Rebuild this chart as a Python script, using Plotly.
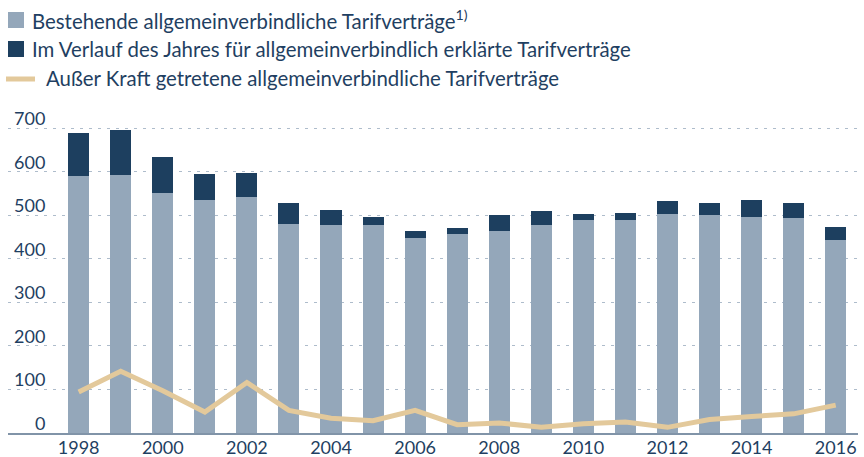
import plotly.graph_objects as go

years = list(range(1998, 2017))
bestehende = [589, 592, 552, 534, 543, 481, 477, 477, 447, 456, 463, 477, 490, 490, 502, 500, 497, 493, 444]
gesamt = [688, 695, 633, 594, 598, 529, 513, 495, 463, 470, 500, 509, 502, 504, 532, 529, 534, 529, 472]
neu = [g - b for g, b in zip(gesamt, bestehende)]
ausser_kraft = [94, 142, 97, 48, 116, 52, 34, 28, 52, 19, 23, 13, 21, 25, 13, 31, 38, 44, 64]
yticks = [0, 100, 200, 300, 400, 500, 600, 700]
xticks = list(range(1998, 2017, 2))

legend_labels = [
    "Bestehende allgemeinverbindliche Tarifverträge<sup>1)</sup>",
    "Im Verlauf des Jahres für allgemeinverbindlich erklärte Tarifverträge",
    "Außer Kraft getretene allgemeinverbindliche Tarifverträge",
]

C_LIGHT = "#94a7ba"
C_DARK = "#1d3f5f"
C_LINE = "#e3c99b"
C_TEXT = "#1f3f62"
FONT = "Lato"

W, H = 864, 457
ML, MR, MT, MB = 8, 6, 112, 24
PW, PH = W - ML - MR, H - MT - MB


def px(x):
    return (x - ML) / PW


def py(y):
    return (H - MB - y) / PH


fig = go.Figure()
fig.add_trace(go.Bar(x=years, y=bestehende, marker_color=C_LIGHT, width=0.5,
                     marker_line_width=0, name=legend_labels[0]))
fig.add_trace(go.Bar(x=years, y=neu, marker_color=C_DARK, width=0.5,
                     marker_line_width=0, name=legend_labels[1]))
fig.add_trace(go.Scatter(x=years, y=ausser_kraft, mode="lines",
                         line=dict(color=C_LINE, width=5), name=legend_labels[2]))

annotations = []
for v in yticks:
    annotations.append(dict(x=px(47), xref="paper", y=v, yref="y", yshift=10,
                            text=str(v), showarrow=False, xanchor="right", yanchor="middle",
                            font=dict(family=FONT, size=18, color=C_TEXT)))

# manual legend
shapes = []
leg_rows = [20, 49, 78]
shapes.append(dict(type="rect", xref="paper", yref="paper", x0=px(8), x1=px(24),
                   y0=py(leg_rows[0] + 8), y1=py(leg_rows[0] - 8), fillcolor=C_LIGHT, line_width=0))
shapes.append(dict(type="rect", xref="paper", yref="paper", x0=px(8), x1=px(24),
                   y0=py(leg_rows[1] + 8), y1=py(leg_rows[1] - 8), fillcolor=C_DARK, line_width=0))
shapes.append(dict(type="line", xref="paper", yref="paper", x0=px(6), x1=px(35),
                   y0=py(leg_rows[2] + 1), y1=py(leg_rows[2] + 1), line=dict(color=C_LINE, width=5)))
text_x = [30, 30, 44]
for lbl, ry, tx in zip(legend_labels, leg_rows, text_x):
    annotations.append(dict(x=px(tx), xref="paper", y=py(ry), yref="paper", text=lbl,
                            showarrow=False, xanchor="left", yanchor="middle",
                            font=dict(family=FONT, size=20.4, color=C_TEXT)))

fig.update_layout(
    width=W, height=H,
    margin=dict(l=ML, r=MR, t=MT, b=MB, autoexpand=False),
    barmode="stack",
    bargap=0.5,
    showlegend=False,
    plot_bgcolor="white", paper_bgcolor="white",
    font=dict(family=FONT, size=18, color=C_TEXT),
    shapes=shapes,
    annotations=annotations,
)
fig.update_xaxes(range=[1996.32, 2016.53], tickvals=xticks, ticktext=[str(t) for t in xticks],
                 showgrid=False, showline=True, linecolor="#8194a8", linewidth=2,
                 ticks="", tickfont=dict(family=FONT, size=18, color=C_TEXT), zeroline=False,
                 ticklabelstandoff=-3, automargin=False)
fig.update_yaxes(range=[0, 737], tickvals=yticks, showticklabels=False, showgrid=True,
                 gridcolor="#aebccb", griddash="3px,6px", gridwidth=1.3, zeroline=False,
                 showline=False, automargin=False)

fig.write_html("out.html", config={"displayModeBar": False},
               post_script="document.body.style.margin='0';document.body.style.overflow='hidden';")
